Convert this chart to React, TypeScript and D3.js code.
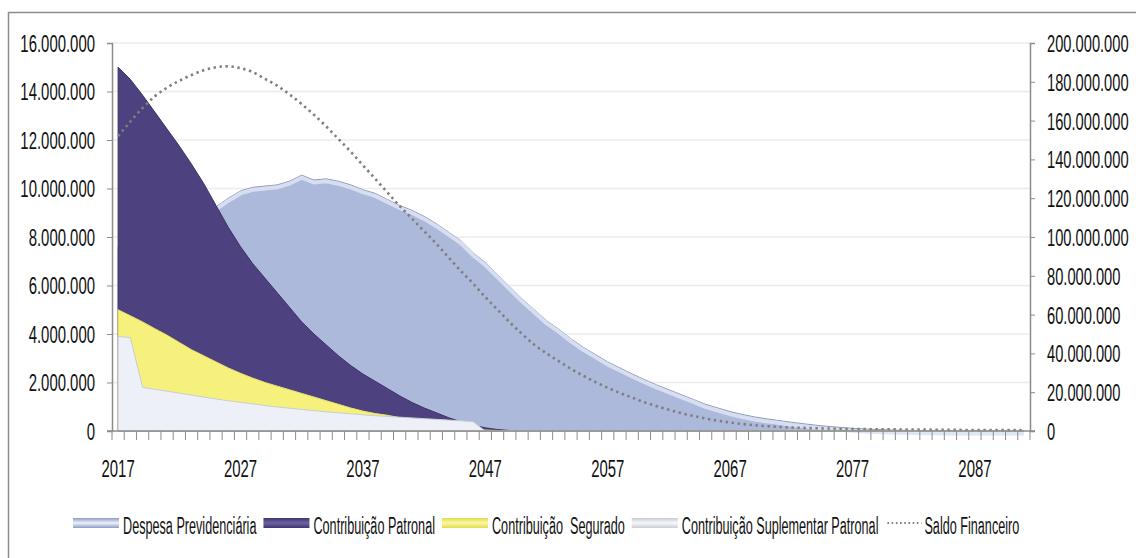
import { useEffect, useRef } from "react";
import * as d3 from "d3";

// years 2017..2091
const years: number[] = d3.range(2017, 2092);

// values in R$ millions (left axis series)
const despesa = [
  7.6, 7.8, 8.0, 8.2, 8.4, 8.6, 8.8, 9.0, 9.25, 9.6,
  9.9, 10.05, 10.1, 10.15, 10.3, 10.55, 10.35, 10.4, 10.3, 10.15,
  9.95, 9.8, 9.55, 9.3, 9.1, 8.85, 8.55, 8.2, 7.85, 7.35,
  6.95, 6.45, 5.95, 5.45, 5.0, 4.55, 4.2, 3.8, 3.45, 3.15,
  2.85, 2.6, 2.35, 2.12, 1.9, 1.7, 1.5, 1.3, 1.1, 0.95,
  0.8, 0.68, 0.58, 0.5, 0.43, 0.36, 0.3, 0.24, 0.19, 0.15,
  0.11, 0.08, 0.06, 0.04, 0.03, 0.02, 0.01, 0.01, 0.005, 0.005,
  0.004, 0.003, 0.002, 0.002, 0.001,
];
const patronal = [
  15.0, 14.5, 13.85, 13.15, 12.45, 11.75, 11.0, 10.2, 9.3, 8.4,
  7.6, 6.9, 6.3, 5.7, 5.1, 4.5, 4.0, 3.55, 3.1, 2.7,
  2.35, 2.05, 1.75, 1.45, 1.18, 0.95, 0.75, 0.55, 0.38, 0.24,
  0.13, 0.06, 0.02,
];
const segurado = [
  5.0, 4.75, 4.5, 4.22, 3.95, 3.65, 3.35, 3.1, 2.85, 2.6,
  2.38, 2.18, 2.0, 1.85, 1.7, 1.55, 1.4, 1.25, 1.1, 0.95,
  0.82, 0.72, 0.65, 0.55, 0.42, 0.32, 0.24, 0.17, 0.12, 0.07,
  0.04, 0.02,
];
const suplementar = [
  3.9, 3.85, 1.8, 1.72, 1.64, 1.56, 1.48, 1.4, 1.32, 1.25,
  1.18, 1.12, 1.05, 0.99, 0.94, 0.89, 0.84, 0.79, 0.75, 0.71,
  0.67, 0.63, 0.6, 0.57, 0.54, 0.51, 0.48, 0.45, 0.42, 0.38,
];
// right axis series, R$ millions
const saldo = [
  152, 159.5, 166.5, 172.5, 177, 180.5, 183.5, 186, 187.5, 188,
  187, 185, 181.5, 178, 173.5, 168.5, 163, 157, 150.5, 144,
  137, 130, 123, 116, 109.5, 103, 96.5, 89.5, 82.5, 76,
  69, 62.5, 56, 50, 44.5, 40, 36, 32, 28.5, 25.2,
  22.3, 19.6, 17.2, 14.8, 12.8, 10.9, 9.2, 7.8, 6.4, 5.3,
  4.4, 3.6, 3.0, 2.5, 2.1, 1.8, 1.6, 1.4, 1.25, 1.1,
  1.0, 0.95, 0.9, 0.85, 0.8, 0.75, 0.7, 0.65, 0.6, 0.55,
  0.5, 0.5, 0.45, 0.45, 0.4,
];

const leftTicks = d3.range(0, 16000001, 2000000);
const rightTicks = d3.range(0, 200000001, 20000000);
const xLabels = [2017, 2027, 2037, 2047, 2057, 2067, 2077, 2087];

const legendItems = [
  { key: "despesa", label: "Despesa Previdenciária" },
  { key: "patronal", label: "Contribuição Patronal" },
  { key: "segurado", label: "Contribuição  Segurado" },
  { key: "suplementar", label: "Contribuição Suplementar Patronal" },
  { key: "saldo", label: "Saldo Financeiro" },
];

const FONT = "'Liberation Sans', Arial, sans-serif";
const FS = 23.5;

export default function App() {
  const svgRef = useRef<SVGSVGElement | null>(null);

  useEffect(() => {
    const width = 1136;
    const height = 558;
    const margin = { top: 43, right: 106, bottom: 127, left: 112 };
    const svg = d3.select(svgRef.current);
    svg.selectAll("*").remove();
    svg.attr("width", width).attr("height", height);

    const ptBR = d3.formatLocale({
      decimal: ",",
      thousands: ".",
      grouping: [3],
      currency: ["R$", ""],
    });
    const fmt = ptBR.format(",d");

    const x = d3
      .scaleBand<number>()
      .domain(years)
      .range([margin.left, width - margin.right]);
    const cx = (i: number) => (x(years[i]) as number) + x.bandwidth() / 2;
    const yL = d3.scaleLinear().domain([0, 16000000]).range([height - margin.bottom, margin.top]);
    const yR = d3.scaleLinear().domain([0, 200000000]).range([height - margin.bottom, margin.top]);

    // squeeze axis text horizontally (narrow font look) keeping its anchor
    const squeeze = (sel: any, k: number) => {
      sel.each(function (this: SVGTextElement) {
        const t = d3.select(this);
        const x0 = +(t.attr("x") || 0);
        t.attr("x", x0 / k).attr("transform", `scale(${k},1)`);
      });
    };

    // gradients for legend swatches
    const defs = svg.append("defs");
    const grad = (id: string, edge: string, mid: string) => {
      const g = defs.append("linearGradient").attr("id", id).attr("x1", 0).attr("x2", 0).attr("y1", 0).attr("y2", 1);
      g.append("stop").attr("offset", "0%").attr("stop-color", edge);
      g.append("stop").attr("offset", "50%").attr("stop-color", mid);
      g.append("stop").attr("offset", "100%").attr("stop-color", edge);
    };
    grad("g-despesa", "#8d9cc2", "#eef1fa");
    grad("g-patronal", "#3f3570", "#6d63a0");
    grad("g-segurado", "#e2dc4a", "#fbf8a8");
    grad("g-suplementar", "#c9ccd6", "#f7f8fb");

    // outer chart border
    svg.append("rect")
      .attr("x", 8.5).attr("y", 12.5)
      .attr("width", width + 20).attr("height", height + 20)
      .attr("fill", "white").attr("stroke", "#8c8c8c").attr("stroke-width", 1.5);

    // gridlines
    svg.append("g")
      .selectAll("line")
      .data(leftTicks.slice(1))
      .enter()
      .append("line")
      .attr("x1", margin.left).attr("x2", width - margin.right)
      .attr("y1", (d) => yL(d)).attr("y2", (d) => yL(d))
      .attr("stroke", "#ececec").attr("stroke-width", 1.5);

    const idx = (arr: number[]) => years.map((_, i) => (i < arr.length ? arr[i] : 0));

    const area = d3
      .area<number>()
      .x((_, i) => cx(i))
      .y0(yL(0))
      .y1((d) => yL(d * 1e6));

    // Despesa Previdenciária (back)
    const despData = idx(despesa);
    svg.append("path")
      .datum(despData)
      .attr("d", area)
      .attr("fill", "#adb9da")
      .attr("stroke", "#8e9bb6")
      .attr("stroke-width", 1);
    const topLine = d3
      .line<number>()
      .x((_, i) => cx(i))
      .y((d) => yL(d * 1e6) + 2.5);
    svg.append("path")
      .datum(despData)
      .attr("d", topLine)
      .attr("fill", "none")
      .attr("stroke", "#dbe2f3")
      .attr("stroke-width", 4)
      .attr("opacity", 0.9);

    // Contribuição Patronal
    svg.append("path")
      .datum(idx(patronal))
      .attr("d", area)
      .attr("fill", "#4d427f")
      .attr("stroke", "#3b3266")
      .attr("stroke-width", 1);

    // Contribuição Segurado
    svg.append("path")
      .datum(idx(segurado))
      .attr("d", area)
      .attr("fill", "#f6f17c")
      .attr("stroke", "#e9e36a")
      .attr("stroke-width", 1);

    // Contribuição Suplementar Patronal
    svg.append("path")
      .datum(idx(suplementar))
      .attr("d", area)
      .attr("fill", "#eef0f7")
      .attr("stroke", "#c9cdd8")
      .attr("stroke-width", 1);

    // Saldo Financeiro (right axis)
    const saldoLine = d3
      .line<number>()
      .x((_, i) => cx(i))
      .y((d) => yR(d * 1e6))
      .curve(d3.curveMonotoneX);
    svg.append("path")
      .datum(saldo)
      .attr("d", saldoLine)
      .attr("fill", "none")
      .attr("stroke", "#7f7f7f")
      .attr("stroke-width", 2.6)
      .attr("stroke-dasharray", "2.4,3.6");

    // left axis
    const gL = svg.append("g")
      .attr("transform", `translate(${margin.left},0)`)
      .call(d3.axisLeft(yL).tickValues(leftTicks).tickFormat((d) => fmt(d as number)).tickSize(5).tickPadding(12));
    gL.select(".domain").attr("stroke", "#8c8c8c").attr("stroke-width", 1.5);
    gL.selectAll(".tick line").attr("stroke", "#8c8c8c");
    gL.selectAll("text")
      .attr("font-family", FONT).attr("font-size", FS).attr("fill", "#111").attr("dy", "0.36em");
    squeeze(gL.selectAll("text"), 0.635);

    // right axis
    const gR = svg.append("g")
      .attr("transform", `translate(${width - margin.right},0)`)
      .call(d3.axisRight(yR).tickValues(rightTicks).tickFormat((d) => fmt(d as number)).tickSize(5).tickPadding(12));
    gR.select(".domain").attr("stroke", "#8c8c8c").attr("stroke-width", 1.5);
    gR.selectAll(".tick line").attr("stroke", "#8c8c8c");
    gR.selectAll("text")
      .attr("font-family", FONT).attr("font-size", FS).attr("fill", "#111").attr("dy", "0.36em");
    squeeze(gR.selectAll("text"), 0.625);

    // x axis: line, ticks at category boundaries, labels every 10 years
    const y0 = yL(0);
    const gX = svg.append("g");
    gX.append("line")
      .attr("x1", margin.left - 5).attr("x2", width - margin.right + 5)
      .attr("y1", y0).attr("y2", y0)
      .attr("stroke", "#8c8c8c").attr("stroke-width", 1.5);
    gX.selectAll("line.tk")
      .data([...years.map((yr) => x(yr) as number), width - margin.right])
      .enter()
      .append("line")
      .attr("class", "tk")
      .attr("x1", (d) => d).attr("x2", (d) => d)
      .attr("y1", y0).attr("y2", y0 + 9)
      .attr("stroke", "#8c8c8c").attr("stroke-width", 1);
    gX.selectAll("g.xl")
      .data(xLabels)
      .enter()
      .append("g")
      .attr("class", "xl")
      .attr("transform", (d) => `translate(${(x(d) as number) + x.bandwidth() / 2},${y0 + 46}) scale(0.635,1)`)
      .append("text")
      .attr("text-anchor", "middle")
      .attr("font-family", FONT).attr("font-size", FS).attr("fill", "#111")
      .text((d) => String(d));

    // legend
    const k = 0.538;
    const lg = svg.append("g").attr("transform", `translate(73,0)`);
    let cursor = 0;
    legendItems.forEach((it) => {
      if (it.key === "saldo") {
        lg.append("line")
          .attr("x1", cursor + 2).attr("x2", cursor + 36)
          .attr("y1", 523).attr("y2", 523)
          .attr("stroke", "#7f7f7f").attr("stroke-width", 2)
          .attr("stroke-dasharray", "1.6,2.6");
        cursor += 39;
      } else {
        lg.append("rect")
          .attr("x", cursor).attr("y", 518)
          .attr("width", 46).attr("height", 10)
          .attr("fill", `url(#g-${it.key})`);
        cursor += 50;
      }
      const t = lg.append("g")
        .attr("transform", `translate(${cursor},534) scale(${k},1)`)
        .append("text")
        .attr("font-family", FONT).attr("font-size", FS).attr("fill", "#111")
        .style("white-space", "pre")
        .text(it.label);
      const w = (t.node() as SVGTextElement).getComputedTextLength() * k;
      cursor += w + 7;
    });
  }, []);

  return (
    <svg
      ref={svgRef}
      style={{ position: "absolute", left: 0, top: 0, background: "white" }}
    />
  );
}
